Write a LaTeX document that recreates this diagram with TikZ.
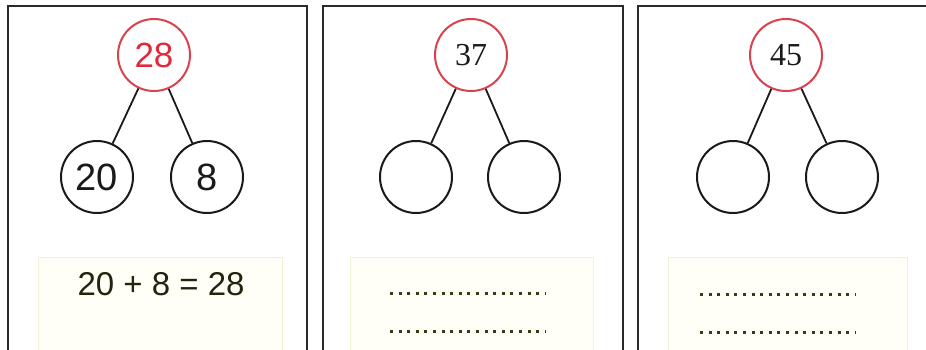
\documentclass[tikz,border=0pt]{standalone}
\usepackage{fontspec}
\newfontfamily\sansf{Liberation Sans}
\newfontfamily\seriff{Liberation Serif}
\definecolor{redring}{HTML}{D9434F}
\definecolor{redtext}{HTML}{E02A3A}
\definecolor{ink}{HTML}{1A1A1A}
\definecolor{boxfill}{HTML}{FFFFF7}
\definecolor{boxline}{HTML}{F1F1D6}
\definecolor{eqtext}{HTML}{24240E}
\definecolor{dotcol}{HTML}{3A3A14}
\definecolor{frame}{HTML}{2A2A2A}
\tikzset{
  panel/.style={draw=frame, line width=2.2pt},
  answerbox/.style={fill=boxfill, draw=boxline, line width=1pt},
  topring/.style={circle, draw=redring, line width=2pt, minimum size=72pt, inner sep=0pt},
  childring/.style={circle, draw=ink, line width=2pt, minimum size=72pt, inner sep=0pt},
  link/.style={draw=ink, line width=1.8pt},
  dotline/.style={draw=dotcol, line width=3pt, dash pattern=on 3pt off 5.6pt},
}
\begin{document}
\begin{tikzpicture}[x=1pt, y=-1pt]
\clip (0,0) rectangle (926,349);
\fill[white] (0,0) rectangle (926,349);
% panels
\draw[panel] (8,6) rectangle (307,370);
\draw[panel] (323,6) rectangle (623,370);
\draw[panel] (638,6) rectangle (940,370);
% answer boxes
\draw[answerbox] (38,257) rectangle (282,370);
\draw[answerbox] (350,257) rectangle (593,370);
\draw[answerbox] (668,257) rectangle (907,370);
% panel 1
\node[topring, text=redtext, font=\sansf\fontsize{35}{38}\selectfont] (a0) at (154,55) {28};
\node[childring, text=ink, font=\sansf\fontsize{38}{42}\selectfont] (a1) at (97,177) {20};
\node[childring, text=ink, font=\sansf\fontsize{38}{42}\selectfont] (a2) at (207,177) {8};
\draw[link] (a0) -- (a1);
\draw[link] (a0) -- (a2);
\node[anchor=base, text=eqtext, font=\sansf\fontsize{33}{36}\selectfont, inner sep=0pt] (aeq) at (161,295) {20 + 8 = 28};
% panel 2
\node[topring, text=ink, font=\seriff\fontsize{32}{36}\selectfont] (b0) at (471,55) {37};
\node[childring] (b1) at (416,177) {};
\node[childring] (b2) at (524,177) {};
\draw[link] (b0) -- (b1);
\draw[link] (b0) -- (b2);
\coordinate (b3) at (390,293);
\coordinate (b4) at (546,293);
\coordinate (b5) at (390,331);
\coordinate (b6) at (546,331);
\draw[dotline] (b3) -- (b4);
\draw[dotline] (b5) -- (b6);
% panel 3
\node[topring, text=ink, font=\seriff\fontsize{32}{36}\selectfont] (c0) at (786,55) {45};
\node[childring] (c1) at (733,177) {};
\node[childring] (c2) at (842,177) {};
\draw[link] (c0) -- (c1);
\draw[link] (c0) -- (c2);
\coordinate (c3) at (700,294);
\coordinate (c4) at (856,294);
\coordinate (c5) at (700,332);
\coordinate (c6) at (856,332);
\draw[dotline] (c3) -- (c4);
\draw[dotline] (c5) -- (c6);
\end{tikzpicture}
\end{document}
